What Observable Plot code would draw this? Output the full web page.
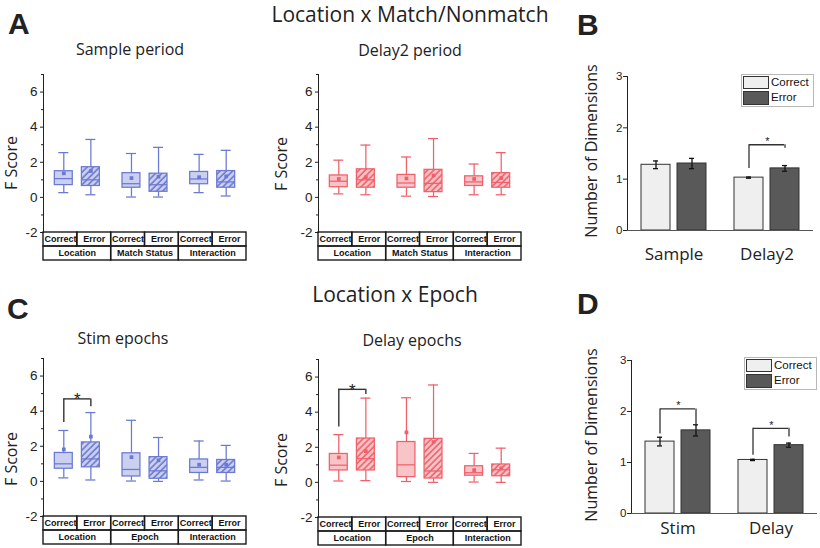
<!DOCTYPE html>
<html><head><meta charset="utf-8">
<script src="https://cdn.jsdelivr.net/npm/d3@7"></script>
<script src="https://cdn.jsdelivr.net/npm/@observablehq/plot@0.6"></script>
<style>
body{margin:0;background:#fff}
#fig{position:relative;width:820px;height:548px;overflow:hidden;background:#fff;color:#222}
.t{position:absolute;white-space:nowrap;line-height:1;font-family:"Open Sans",sans-serif;color:#222}
</style></head><body><div id="fig"></div>
<script>
// ---------------- data ----------------
const conditions = ["Correct", "Error"];
const factorsMatch = ["Location", "Match Status", "Interaction"];
const factorsEpoch = ["Location", "Epoch", "Interaction"];
const yTicksBox = [-2, 0, 2, 4, 6];
const yMinorBox = [-1, 1, 3, 5, 7];
// each box: [lower whisker, Q1, median, Q3, upper whisker, mean]; order: f1 Correct, f1 Error, f2 Correct, f2 Error, f3 Correct, f3 Error
const samplePeriod = [
  [0.27, 0.70, 1.07, 1.49, 2.55, 1.37],
  [0.15, 0.65, 1.00, 1.72, 3.30, 1.50],
  [0.02, 0.55, 0.78, 1.38, 2.50, 1.10],
  [0.02, 0.32, 0.72, 1.35, 2.85, 1.18],
  [0.27, 0.75, 1.05, 1.45, 2.45, 1.15],
  [0.08, 0.55, 0.88, 1.50, 2.68, 1.20]
];
const delay2Period = [
  [0.20, 0.58, 0.92, 1.25, 2.12, 1.05],
  [0.15, 0.55, 1.00, 1.60, 2.98, 1.15],
  [0.07, 0.55, 0.82, 1.28, 2.30, 1.08],
  [0.05, 0.30, 0.80, 1.57, 3.35, 1.25],
  [0.15, 0.65, 0.88, 1.20, 1.90, 1.05],
  [0.15, 0.55, 0.85, 1.38, 2.55, 1.10]
];
const stimEpochs = [
  [0.20, 0.72, 1.00, 1.62, 2.90, 1.82],
  [0.08, 0.80, 1.28, 2.22, 3.92, 2.55],
  [0.02, 0.28, 0.68, 1.60, 3.48, 1.38],
  [0.00, 0.15, 0.60, 1.38, 2.50, 1.20],
  [0.08, 0.48, 0.80, 1.25, 2.30, 0.95],
  [0.02, 0.48, 0.80, 1.22, 2.05, 0.95]
];
const delayEpochs = [
  [0.08, 0.68, 0.98, 1.62, 2.72, 1.42],
  [0.10, 0.68, 1.35, 2.50, 4.80, 1.78],
  [0.05, 0.30, 1.00, 2.30, 4.82, 2.85],
  [0.00, 0.22, 0.65, 2.48, 5.55, 2.30],
  [0.02, 0.38, 0.55, 0.92, 1.65, 0.70],
  [0.00, 0.35, 0.72, 1.02, 1.95, 0.80]
];
const sigStim = [{group: "Location", left: 3.35, right: 4.25, top: 4.7}];
const sigDelayEpochs = [{group: "Location", left: 3.15, right: 5.0, top: 5.3}];

const periodsB = ["Sample", "Delay2"];
const meanB = [1.28, 1.305, 1.03, 1.21];   // Sample C, Sample E, Delay2 C, Delay2 E
const semB = [0.075, 0.10, 0.012, 0.055];
const sigB = [{group: "Delay2", left: 1.21, right: 1.6, top: 1.67}];
const epochsD = ["Stim", "Delay"];
const meanD = [1.41, 1.63, 1.05, 1.34];
const semD = [0.085, 0.11, 0.012, 0.04];
const sigD = [{group: "Stim", left: 1.56, right: 1.70, top: 2.05}, {group: "Delay", left: 1.14, right: 1.50, top: 1.67}];
const yTicksBar = [0, 1, 2, 3];
const barColors = ["#efefef", "#595959"];

// ---------------- helpers ----------------
const fig = document.getElementById("fig");
function place(el, left, top) {
  el.style.position = "absolute"; el.style.left = left + "px"; el.style.top = top + "px";
  fig.appendChild(el);
}
// y is the top of the capital letters (or the centre for rotated text)
function text(str, x, y, {size = 16, weight = 400, family = '"Open Sans", sans-serif', rotate = false, center = true} = {}) {
  const d = document.createElement("div");
  d.className = "t"; d.textContent = str;
  d.style.fontSize = size + "px"; d.style.fontWeight = weight; d.style.fontFamily = family;
  d.style.left = x + "px";
  if (rotate) { d.style.top = y + "px"; d.style.transform = "translate(-50%,-50%) rotate(-90deg)"; }
  else {
    const open = family.includes("Open");
    const off = open ? (0.888 - 0.714) * size : (0.8465 - 0.716) * size;
    d.style.top = (y - off) + "px";
    if (center) d.style.transform = "translateX(-50%)";
  }
  fig.appendChild(d);
}
const baseStyle = {background: "transparent", overflow: "visible", fontFamily: '"Liberation Sans", Arial, sans-serif', color: "#222"};

function boxPanel({stats, factors, stroke, fill, hatchId, left, top, sig}) {
  const rows = stats.map((s, i) => {
    const g = Math.floor(i / 2), k = i % 2;
    return {factor: factors[g], cond: conditions[k], pos: 2 * g + 1 + (k ? 0.4 : -0.4),
      low: s[0], q1: s[1], med: s[2], q3: s[3], high: s[4], mean: s[5]};
  });
  const BW = 0.265, CW = 0.148;
  const st = {stroke, strokeWidth: 1.25};
  const marks = [
    Plot.ruleY(yMinorBox, {x1: 0, x2: 0, insetLeft: -2, stroke: "#222"}),
    Plot.ruleX(rows, {x: "pos", y1: "low", y2: "q1", ...st}),
    Plot.ruleX(rows, {x: "pos", y1: "q3", y2: "high", ...st}),
    Plot.ruleY(rows, {x1: d => d.pos - CW, x2: d => d.pos + CW, y: "low", ...st}),
    Plot.ruleY(rows, {x1: d => d.pos - CW, x2: d => d.pos + CW, y: "high", ...st}),
    Plot.rect(rows, {filter: d => d.cond === "Correct", x1: d => d.pos - BW, x2: d => d.pos + BW, y1: "q1", y2: "q3", fill, ...st}),
    Plot.rect(rows, {filter: d => d.cond === "Error", x1: d => d.pos - BW, x2: d => d.pos + BW, y1: "q1", y2: "q3", fill: `url(#${hatchId})`, ...st}),
    Plot.ruleY(rows, {x1: d => d.pos - BW, x2: d => d.pos + BW, y: "med", ...st}),
    Plot.dot(rows, {x: "pos", y: "mean", symbol: "square", r: 2.1, fill: stroke, stroke: null})
  ];
  if (sig) {
    const b = sig.map(s => {
      const g = factors.indexOf(s.group);
      return {...s, xl: 2 * g + 0.6, xr: 2 * g + 1.4};
    });
    const bs = {stroke: "#333", strokeWidth: 1.4};
    marks.push(
      Plot.ruleX(b, {x: "xl", y1: "left", y2: "top", ...bs}),
      Plot.ruleX(b, {x: "xr", y1: "right", y2: "top", ...bs}),
      Plot.ruleY(b, {x1: "xl", x2: "xr", y: "top", ...bs}),
      Plot.text(b, {x: d => (d.xl + d.xr) / 2, y: "top", text: () => "*", fontSize: 17, fill: "#222", dy: 1})
    );
  }
  const svg = Plot.plot({
    width: 257, height: 182, marginLeft: 43, marginRight: 11, marginTop: 14, marginBottom: 10,
    x: {domain: [0, 6], axis: null},
    y: {domain: [-2, 7], ticks: yTicksBox, tickSize: 3, tickPadding: 3, tickFormat: d => String(d), line: true, label: null},
    style: {...baseStyle, fontSize: "13.5px"},
    marks
  });
  const ns = "http://www.w3.org/2000/svg";
  const defs = document.createElementNS(ns, "defs");
  defs.innerHTML = `<pattern id="${hatchId}" patternUnits="userSpaceOnUse" width="4.4" height="4.4" patternTransform="rotate(45)"><rect width="4.4" height="4.4" fill="${fill}"/><line x1="1" y1="-1" x2="1" y2="6" stroke="${stroke}" stroke-width="1.6"/></pattern>`;
  svg.insertBefore(defs, svg.firstChild);
  place(svg, left, top);

  // category table under the axis
  const condCells = rows.map((d, i) => ({i, label: d.cond}));
  const groupCells = factors.map((f, g) => ({g, label: f}));
  const cs = {stroke: "#1a1a1a", strokeWidth: 1.4, fill: "none"};
  const ts = {fontWeight: "bold", fontSize: 9, fill: "#111"};
  const table = Plot.plot({
    width: 257, height: 30, marginLeft: 43, marginRight: 11, marginTop: 1, marginBottom: 1,
    x: {domain: [0, 6], axis: null}, y: {domain: [2, 0], axis: null},
    style: baseStyle,
    marks: [
      Plot.rect(condCells, {x1: "i", x2: d => d.i + 1, y1: 0, y2: 1, ...cs}),
      Plot.rect(groupCells, {x1: d => 2 * d.g, x2: d => 2 * d.g + 2, y1: 1, y2: 2, ...cs}),
      Plot.text(condCells, {x: d => d.i + 0.5, y: 0.5, text: "label", ...ts}),
      Plot.text(groupCells, {x: d => 2 * d.g + 1, y: 1.5, text: "label", ...ts})
    ]
  });
  place(table, left, top + 172 - 1);
}

function barPanel({groups, means, sems, sig, left, top, axisX, right, zeroY, labelDy}) {
  const bars = means.map((m, i) => ({group: groups[Math.floor(i / 2)], cond: conditions[i % 2], value: m, sem: sems[i]}));
  const marginTop = 16, marginBottom = 36;
  const plotH = zeroY - top - marginTop;
  const marks = [
    Plot.barY(bars, {fx: "group", x: "cond", y: "value", fill: "cond", stroke: "#333", strokeWidth: 1}),
    Plot.ruleY([0], {stroke: "#555", strokeWidth: 1}),
    Plot.ruleX(bars, {fx: "group", x: "cond", y1: d => d.value - d.sem, y2: d => d.value + d.sem, stroke: "#111", strokeWidth: 1.3}),
    Plot.tickY(bars, {fx: "group", x: "cond", y: d => d.value - d.sem, insetLeft: 12, insetRight: 12, stroke: "#111", strokeWidth: 1.3}),
    Plot.tickY(bars, {fx: "group", x: "cond", y: d => d.value + d.sem, insetLeft: 12, insetRight: 12, stroke: "#111", strokeWidth: 1.3}),
    Plot.text(groups, {fx: d => d, text: d => d, frameAnchor: "bottom", lineAnchor: "middle", dy: labelDy, fontSize: 17, fontFamily: '"Open Sans", sans-serif', fill: "#222"})
  ];
  if (sig) {
    const bs = {stroke: "#333", strokeWidth: 1.3};
    marks.push(
      Plot.ruleX(sig, {fx: "group", x: () => "Correct", y1: "left", y2: "top", ...bs}),
      Plot.ruleX(sig, {fx: "group", x: () => "Error", y1: "right", y2: "top", ...bs}),
      Plot.ruleY(sig, {fx: "group", x1: () => "Correct", x2: () => "Error", y: "top", insetLeft: 15, insetRight: 15, ...bs}),
      Plot.text(sig, {fx: "group", x: () => "Correct", dx: 18.5, y: "top", text: () => "*", fontSize: 11, dy: -3, fill: "#222"})
    );
  }
  const width = right - left + 3;
  const svg = Plot.plot({
    width, height: marginTop + plotH + marginBottom,
    marginLeft: axisX - left, marginRight: 3, marginTop, marginBottom,
    fx: {domain: groups, padding: 0, axis: null, label: null},
    x: {domain: conditions, paddingInner: 0.19, paddingOuter: 0.352, axis: null},
    y: {domain: [0, 3], ticks: yTicksBar, tickSize: 4, tickPadding: 1, tickFormat: d => String(d), line: true, label: null},
    color: {domain: conditions, range: barColors},
    style: {...baseStyle, fontSize: "11.5px"},
    marks
  });
  place(svg, left, top);
}

function legend(L, T) {
  const box = document.createElement("div");
  box.style.cssText = "width:71px;height:31px;border:1px solid #b8b8b8;background:#fff";
  place(box, L, T);
  conditions.forEach((c, i) => {
    const sw = document.createElement("div");
    sw.style.cssText = `width:24px;height:${i ? 12 : 11}px;border:1px solid #333;background:${barColors[i]}`;
    place(sw, L + 2, T + 2 + i * 15);
    const t = document.createElement("div");
    t.className = "t";
    t.textContent = c;
    t.style.fontFamily = '"Liberation Sans", Arial, sans-serif';
    t.style.fontSize = "11.5px";
    t.style.color = "#111";
    place(t, L + 30, T + 3 + i * 15);
  });
}

// ---------------- figure ----------------
const blue = "#6a79d2", blueFill = "#cbd0f1", red = "#f0606a", redFill = "#f9c4c7";

text("Location x Match/Nonmatch", 410, 8, {size: 21});
text("Location x Epoch", 395, 288, {size: 21});
text("A", 8, 13, {size: 30, weight: 700, family: '"Liberation Sans", Arial', center: false});
text("B", 577, 14, {size: 30, weight: 700, family: '"Liberation Sans", Arial', center: false});
text("C", 7, 298, {size: 30, weight: 700, family: '"Liberation Sans", Arial', center: false});
text("D", 577, 293, {size: 30, weight: 700, family: '"Liberation Sans", Arial', center: false});
text("Sample period", 130, 43.5, {size: 16});
text("Delay2 period", 410, 45, {size: 16});
text("Stim epochs", 123, 333, {size: 16});
text("Delay epochs", 412, 335, {size: 16});
text("F Score", 11, 163, {size: 16, rotate: true});
text("F Score", 281, 164, {size: 16, rotate: true});
text("F Score", 11, 459, {size: 16, rotate: true});
text("F Score", 281, 460, {size: 16, rotate: true});
text("Number of Dimensions", 591, 151, {size: 16, rotate: true});
text("Number of Dimensions", 591, 435, {size: 16, rotate: true});

boxPanel({stats: samplePeriod, factors: factorsMatch, stroke: blue, fill: blueFill, hatchId: "hA1", left: 0, top: 60});
boxPanel({stats: delay2Period, factors: factorsMatch, stroke: red, fill: redFill, hatchId: "hA2", left: 275, top: 60});
boxPanel({stats: stimEpochs, factors: factorsEpoch, stroke: blue, fill: blueFill, hatchId: "hC1", left: 0, top: 344, sig: sigStim});
boxPanel({stats: delayEpochs, factors: factorsEpoch, stroke: red, fill: redFill, hatchId: "hC2", left: 275, top: 344.5, sig: sigDelayEpochs});

barPanel({groups: periodsB, means: meanB, sems: semB, sig: sigB, left: 550, top: 60, axisX: 627, right: 813, zeroY: 230, labelDy: 23.6});
barPanel({groups: epochsD, means: meanD, sems: semD, sig: sigD, left: 550, top: 344, axisX: 630, right: 817, zeroY: 513, labelDy: 14.6});
legend(741, 74);
legend(744, 357);
</script></body></html>
